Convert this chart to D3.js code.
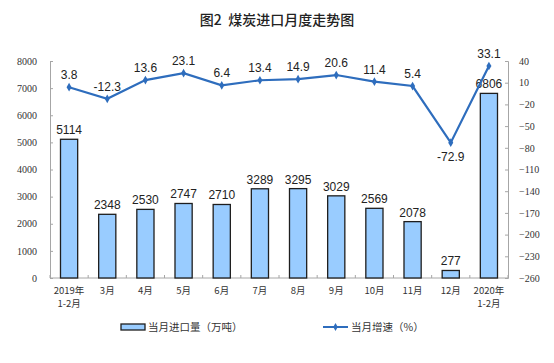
<!DOCTYPE html>
<html><head><meta charset="utf-8">
<script src="https://cdn.jsdelivr.net/npm/d3@7"></script>
<style>body{margin:0;background:#fff}svg{display:block}</style>
</head><body>
<svg id="c" width="554" height="363"></svg>
<script>
const categories = ["2019年\n1-2月","3月","4月","5月","6月","7月","8月","9月","10月","11月","12月","2020年\n1-2月"];
const importVolume = [5114,2348,2530,2747,2710,3289,3295,3029,2569,2078,277,6806];
const growthRate = [3.8,-12.3,13.6,23.1,6.4,13.4,14.9,20.6,11.4,5.4,-72.9,33.1];
const leftTicks = [0,1000,2000,3000,4000,5000,6000,7000,8000];
const rightTicks = [40,10,-20,-50,-80,-110,-140,-170,-200,-230,-260];
const title = "图2  煤炭进口月度走势图";
const legendBar = "当月进口量（万吨）";
const legendLine = "当月增速（%）";

const svg = d3.select("#c");
const L = 50, R = 508, T = 61, B = 278;
const x = d3.scaleBand().domain(categories).range([L, R]).paddingInner(0.55).paddingOuter(0.275);
const yL = d3.scaleLinear().domain([0, 8000]).range([B, T]);
const yR = d3.scaleLinear().domain([-260, 40]).range([B, T]);
const lineColor = "#2e6dbd";
const axisColor = "#a6a6a6";
const serif = "'Liberation Serif','DejaVu Serif',serif";
const sans = "'Liberation Sans',Arial,sans-serif";
const cjk = "'Noto Sans CJK SC',sans-serif";

svg.append("text").attr("x", 277).attr("y", 25).attr("text-anchor", "middle")
  .style("white-space", "pre")
  .attr("font-family", cjk).attr("font-size", 14).attr("font-weight", 500).attr("fill", "#222").text(title);

// left axis
const gl = svg.append("g").attr("transform", `translate(${L},0)`)
  .call(d3.axisLeft(yL).tickValues(leftTicks).tickSize(-3).tickPadding(13).tickFormat(d3.format("d")));
gl.select(".domain").attr("stroke", axisColor);
gl.selectAll(".tick line").attr("stroke", axisColor);
gl.selectAll("text").attr("font-family", serif).attr("font-size", 10).attr("fill", "#333");

// right axis
const gr = svg.append("g").attr("transform", `translate(${R},0)`)
  .call(d3.axisRight(yR).tickValues(rightTicks).tickSize(-3).tickPadding(11));
gr.select(".domain").attr("stroke", axisColor);
gr.selectAll(".tick line").attr("stroke", axisColor);
gr.selectAll("text").attr("font-family", serif).attr("font-size", 10).attr("fill", "#333");

// bottom axis
svg.append("line").attr("x1", L).attr("x2", R).attr("y1", B).attr("y2", B).attr("stroke", axisColor);
d3.range(categories.length + 1).forEach(i => {
  const xx = L + i * (R - L) / categories.length;
  svg.append("line").attr("x1", xx).attr("x2", xx).attr("y1", B).attr("y2", B - 3).attr("stroke", axisColor);
});
categories.forEach(c => {
  const parts = c.split("\n");
  const t = svg.append("text").attr("text-anchor", "middle").attr("font-family", cjk)
    .attr("font-size", 9.5).attr("fill", "#333");
  parts.forEach((p, i) => t.append("tspan").attr("x", x(c) + x.bandwidth() / 2).attr("y", 294 + i * 13).text(p));
});

// bars
svg.selectAll("rect.bar").data(importVolume).enter().append("rect").attr("class", "bar")
  .attr("x", (d, i) => x(categories[i])).attr("width", x.bandwidth())
  .attr("y", d => yL(d)).attr("height", d => B - yL(d))
  .attr("fill", "#99ccff").attr("stroke", "#1e1e1e").attr("stroke-width", 1.3);
svg.selectAll("text.bl").data(importVolume).enter().append("text").attr("class", "bl")
  .attr("x", (d, i) => x(categories[i]) + x.bandwidth() / 2).attr("y", d => yL(d) - 5)
  .attr("text-anchor", "middle").attr("font-family", sans).attr("font-size", 12).attr("fill", "#222").text(d => d);

// line
const cx = i => x(categories[i]) + x.bandwidth() / 2;
svg.append("path").datum(growthRate)
  .attr("d", d3.line().x((d, i) => cx(i)).y(d => yR(d)))
  .attr("fill", "none").attr("stroke", lineColor).attr("stroke-width", 2.2);
svg.selectAll("path.mk").data(growthRate).enter().append("path").attr("class", "mk")
  .attr("d", d3.symbol(d3.symbolDiamond, 22))
  .attr("transform", (d, i) => `translate(${cx(i)},${yR(d)})`).attr("fill", lineColor);
svg.selectAll("text.ll").data(growthRate).enter().append("text").attr("class", "ll")
  .attr("x", (d, i) => cx(i)).attr("y", (d, i) => i === 10 ? yR(d) + 18 : yR(d) - 8)
  .attr("text-anchor", "middle").attr("font-family", sans).attr("font-size", 12).attr("fill", "#222").text(d => d);

// legend
svg.append("rect").attr("x", 121).attr("y", 324).attr("width", 24).attr("height", 6)
  .attr("fill", "#99ccff").attr("stroke", "#1e1e1e").attr("stroke-width", 1.3);
svg.append("text").attr("x", 148).attr("y", 331).attr("font-family", cjk).attr("font-size", 10.5).attr("fill", "#333").text(legendBar);
svg.append("line").attr("x1", 323).attr("x2", 348).attr("y1", 327).attr("y2", 327).attr("stroke", lineColor).attr("stroke-width", 2);
svg.append("path").attr("d", d3.symbol(d3.symbolDiamond, 18)).attr("transform", "translate(335.5,327)").attr("fill", lineColor);
svg.append("text").attr("x", 351).attr("y", 331).attr("font-family", cjk).attr("font-size", 10.5).attr("fill", "#333").text(legendLine);
</script>
</body></html>
